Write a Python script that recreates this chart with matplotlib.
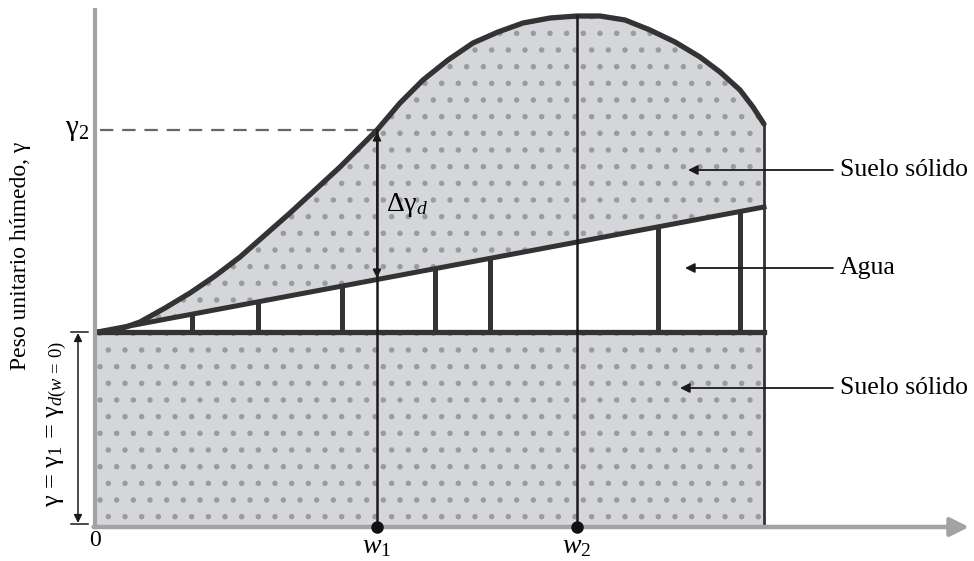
import numpy as np
import matplotlib
matplotlib.use("Agg")
import matplotlib.pyplot as plt

plt.rcParams['font.family'] = ['Liberation Serif', 'DejaVu Serif']
plt.rcParams['mathtext.fontset'] = 'custom'
plt.rcParams['mathtext.rm'] = 'Liberation Serif'
plt.rcParams['mathtext.it'] = 'Liberation Serif:italic'
plt.rcParams['mathtext.bf'] = 'Liberation Serif:bold'
plt.rcParams['hatch.linewidth'] = 1.5

# moisture content (w) and moist unit weight (gamma)
curve_w = [0.0, 0.03, 0.13, 0.26, 0.43, 0.68, 0.93, 1.18, 1.43, 1.68, 1.93, 2.18, 2.43, 2.62,
           2.80, 3.03, 3.26, 3.51, 3.76, 4.01, 4.26, 4.53, 4.80, 5.03, 5.28, 5.53, 5.78,
           6.03, 6.23, 6.43, 6.56, 6.67]
curve_gamma = [1.95, 1.95, 1.965, 1.99, 2.05, 2.19, 2.34, 2.51, 2.70, 2.92, 3.14, 3.37, 3.60,
               3.79, 3.97, 4.24, 4.47, 4.67, 4.84, 4.95, 5.04, 5.09, 5.11, 5.11, 5.07, 4.97,
               4.85, 4.70, 4.55, 4.37, 4.20, 4.03]

gamma1 = 1.95          # dry unit weight at w = 0
w_end = 6.67           # right edge of the sketch
water_w = [0.0, w_end]
water_gamma = [1.95, 3.20]

bar_w = [0.95, 1.61, 2.45, 3.38, 3.93, 5.61, 6.43]
bar_top = [2.12, 2.25, 2.41, 2.58, 2.68, 3.00, 3.15]

w1, gamma2, gamma_w1_water = 2.80, 3.97, 2.47
w2, gamma_w2 = 4.80, 5.11

labels = ['Suelo sólido', 'Agua', 'Suelo sólido']
label_gamma = [3.57, 2.59, 1.39]
label_tip = [5.91, 5.88, 5.83]

dark = '#333333'
axis_grey = '#a3a3a3'
fill_grey = '#d5d6d9'
speck = '#9a9b9e'

fig = plt.figure(figsize=(9.74, 5.61), dpi=100)
ax = fig.add_axes([0, 0, 1, 1])
ax.set_xlim(-0.97, 8.77)
ax.set_ylim(-0.34, 5.27)
ax.axis('off')

# soil below the base line
ax.fill([0, w_end, w_end, 0], [0, 0, gamma1, gamma1], facecolor=fill_grey,
        edgecolor=speck, lw=0, hatch='.', zorder=1)

# soil above water (between curve and water line)
poly_w = curve_w + water_w[::-1]
poly_g = curve_gamma + water_gamma[::-1]
ax.fill(poly_w, poly_g, facecolor=fill_grey, edgecolor=speck, lw=0, hatch='.', zorder=1)

# outlines
ax.plot(curve_w, curve_gamma, color=dark, lw=3.8, solid_capstyle='round',
        solid_joinstyle='round', zorder=4)
ax.plot(water_w, water_gamma, color=dark, lw=3.6, zorder=4)
ax.plot([0, w_end], [gamma1, gamma1], color=dark, lw=3.8, zorder=4)
ax.vlines(bar_w, gamma1, bar_top, color=dark, lw=3.6, zorder=4)
ax.plot([w_end, w_end], [0, curve_gamma[-1]], color=dark, lw=2, zorder=4)

# w1, w2 verticals
ax.plot([w1, w1], [0, gamma2], color='#1a1a1a', lw=1.8, zorder=5)
ax.plot([w2, w2], [0, gamma_w2], color='#1a1a1a', lw=1.8, zorder=5)
ax.plot([w1, w2], [0, 0], 'o', color='#111111', ms=8, zorder=7)

# gamma2 dashed line
ax.plot([0.03, w1], [gamma2, gamma2], color='#666666', lw=1.6, ls=(0, (6, 4)), zorder=3)

# axes
ax.plot([-0.02, -0.02], [0, 5.17], color=axis_grey, lw=3, zorder=6)
ax.annotate('', xy=(8.72, 0), xytext=(-0.035, 0),
            arrowprops=dict(arrowstyle='-|>', color=axis_grey, lw=3.2, mutation_scale=28,
                            shrinkA=0, shrinkB=0), zorder=6)

# delta gamma_d arrow
ax.annotate('', xy=(w1, gamma2 - 0.02), xytext=(w1, gamma_w1_water + 0.02),
            arrowprops=dict(arrowstyle='<|-|>', color='#1a1a1a', lw=1.3, mutation_scale=12,
                            shrinkA=0, shrinkB=0), zorder=6)
ax.text(w1 + 0.09, 3.22, r'Δγ$_{d}$', fontsize=20, va='center', ha='left', zorder=8)

# gamma1 bracket on the left
ax.annotate('', xy=(-0.19, gamma1 - 0.01), xytext=(-0.19, 0.04),
            arrowprops=dict(arrowstyle='<|-|>', color='#1a1a1a', lw=1.1, mutation_scale=12,
                            shrinkA=0, shrinkB=0))
ax.plot([-0.26, -0.09], [gamma1, gamma1], color='#1a1a1a', lw=1.1)
ax.plot([-0.26, -0.09], [0.03, 0.03], color='#1a1a1a', lw=1.1)
ax.text(-0.40, 1.03, r'γ = γ$_{1}$ = γ$_{d(w\,=\,0)}$', rotation=90, fontsize=19,
        ha='center', va='center')
ax.text(-0.76, 2.71, 'Peso unitario húmedo, γ', rotation=90, fontsize=17,
        ha='center', va='center')

# tick-type labels
ax.text(-0.08, gamma2, r'γ$_{2}$', fontsize=21, ha='right', va='center')
ax.text(-0.02, -0.14, '0', fontsize=17, ha='center', va='center')
ax.text(w1, -0.2, r'$w_{1}$', fontsize=20, ha='center', va='center')
ax.text(w2, -0.2, r'$w_{2}$', fontsize=20, ha='center', va='center')

# right-hand labels
for lab, g, tip in zip(labels, label_gamma, label_tip):
    ax.annotate('', xy=(tip, g), xytext=(7.36, g),
                arrowprops=dict(arrowstyle='-|>', color='#1a1a1a', lw=1.3, mutation_scale=14,
                                shrinkA=0, shrinkB=0), zorder=8)
    ax.text(7.43, g, lab, fontsize=18.5, ha='left', va='center')

fig.savefig('out.png', dpi=100)
